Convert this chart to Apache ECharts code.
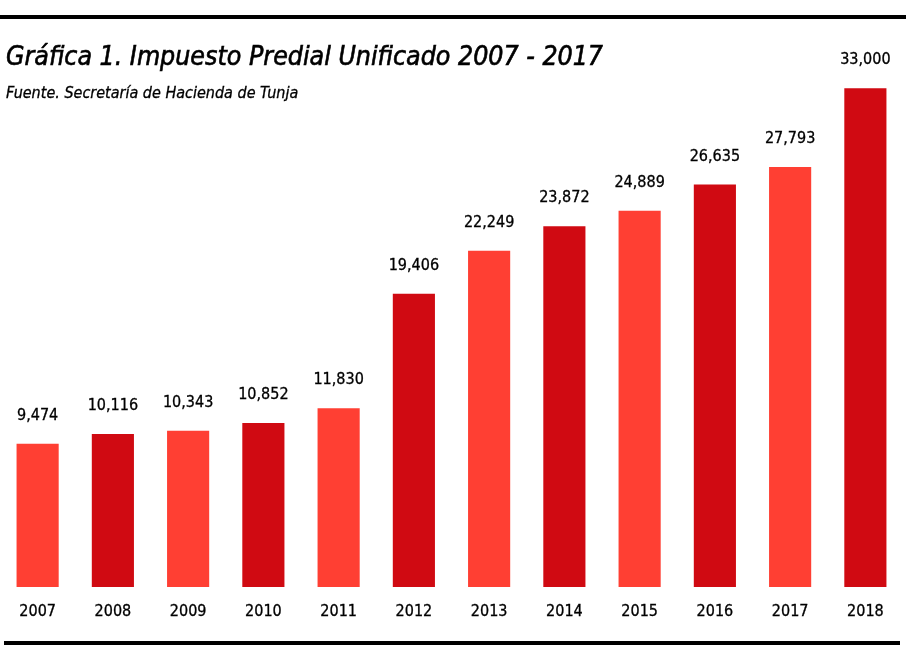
<!DOCTYPE html>
<html><head><meta charset="utf-8">
<script src="https://cdn.jsdelivr.net/npm/echarts@6/dist/echarts.min.js"></script>
<style>html,body{margin:0;padding:0;background:#fff}#c{width:906px;height:653px}</style>
</head><body><div id="c"></div>
<script>
const years = ['2007','2008','2009','2010','2011','2012','2013','2014','2015','2016','2017','2018'];
const values = [9474,10116,10343,10852,11830,19406,22249,23872,24889,26635,27793,33000];
const barColors = ['#FF3F33','#D00A12'];
const titleText = 'Gráfica 1. Impuesto Predial Unificado 2007 - 2017';
const subtitleText = 'Fuente. Secretaría de Hacienda de Tunja';
const FONT = '"DejaVu Sans Condensed", "DejaVu Sans", sans-serif';

const chart = echarts.init(document.getElementById('c'), null, {renderer:'canvas'});
chart.setOption({
  backgroundColor:'#fff',
  animation:false,
  title:[
    {text:titleText, left:1, top:40, textStyle:{fontFamily:FONT, fontStyle:'italic', fontWeight:'normal', fontSize:26.5, color:'#000', textBorderColor:'#000', textBorderWidth:0.6}},
    {text:subtitleText, left:1, top:81, textStyle:{fontFamily:FONT, fontStyle:'italic', fontWeight:'normal', fontSize:16, color:'#000', textBorderColor:'#000', textBorderWidth:0.3}}
  ],
  grid:{left:-1, right:3, top:58, bottom:66},
  xAxis:{type:'category', data:years, axisLine:{show:false}, axisTick:{show:false},
    axisLabel:{fontFamily:FONT, fontSize:16, color:'#000', margin:17, textBorderColor:'#000', textBorderWidth:0.3}},
  yAxis:{type:'value', min:0, max:35000, show:false, splitLine:{show:false}},
  series:[{type:'bar', barCategoryGap:'44%',
    data:values.map((v,i)=>({value:v, itemStyle:{color:barColors[i%2]}})),
    label:{show:true, position:'top', distance:20, fontFamily:FONT, fontSize:16, color:'#000', textBorderColor:'#000', textBorderWidth:0.3,
      formatter:p=>p.value.toLocaleString('en-US')}
  }],
  graphic:[
    {type:'rect', shape:{x:0,y:15,width:906,height:4}, style:{fill:'#000'}},
    {type:'rect', shape:{x:4,y:641,width:896,height:4}, style:{fill:'#000'}}
  ]
});
</script></body></html>
